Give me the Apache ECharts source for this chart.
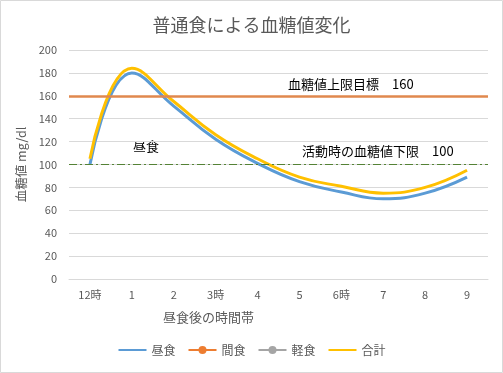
<!DOCTYPE html>
<html><head><meta charset="utf-8">
<script src="https://cdn.jsdelivr.net/npm/echarts@6/dist/echarts.min.js"></script>
<style>html,body{margin:0;padding:0;background:#fff}#c{width:503px;height:373px}</style>
</head><body><div id="c"></div>
<script>
var categories = ['12時','1','2','3時','4','5','6時','7','8','9'];
var lunch = [100, 180, 151, 122, 101, 85, 76, 70, 75, 89];
var snack = [];
var light = [];
var total = [105, 184, 155, 126, 105, 89, 81, 75, 80, 95];
var upperLimit = 160;
var lowerLimit = 100;
var yTicks = {min: 0, max: 200, interval: 20};

var F = '"Noto Sans CJK JP", "Noto Sans", sans-serif';
var chart = echarts.init(document.getElementById('c'), null, {renderer: 'canvas'});
chart.setOption({
  animation: false,
  title: {text: '普通食による血糖値変化', left: 'center', top: 11,
    textStyle: {fontFamily: F, fontSize: 18, fontWeight: 'normal', color: '#595959'}},
  grid: {left: 69, right: 15, top: 50, bottom: 94},
  legend: {bottom: 12, left: 'center', itemWidth: 28, itemHeight: 10, itemGap: 12,
    textStyle: {fontFamily: F, fontSize: 12, color: '#595959'},
    data: [
      {name: '昼食', itemStyle: {opacity: 0}},
      {name: '間食'},
      {name: '軽食'},
      {name: '合計', itemStyle: {opacity: 0}}
    ]},
  xAxis: {type: 'category', data: categories, boundaryGap: true,
    axisLine: {show: true, lineStyle: {color: '#d9d9d9'}}, axisTick: {show: false},
    axisLabel: {fontFamily: F, fontSize: 11, color: '#595959', margin: 10}},
  yAxis: {type: 'value', min: yTicks.min, max: yTicks.max, interval: yTicks.interval,
    name: '血糖値 mg/dl', nameLocation: 'middle', nameGap: 30, nameRotate: 90,
    nameTextStyle: {fontFamily: F, fontSize: 12.5, color: '#595959'},
    axisLine: {show: false}, axisTick: {show: false},
    axisLabel: {fontFamily: F, fontSize: 11, color: '#595959', margin: 12},
    splitLine: {lineStyle: {color: '#d9d9d9', width: 1}}},
  series: [
    {name: '昼食', type: 'line', data: lunch, smooth: 0.45, symbol: 'none',
      lineStyle: {color: '#5B9BD5', width: 3}, itemStyle: {color: '#5B9BD5'}, z: 3,
      markLine: {silent: true, symbol: 'none', label: {show: false},
        data: [
          {yAxis: upperLimit, lineStyle: {color: '#E0884E', width: 2.5, type: 'solid'}},
          {yAxis: lowerLimit, lineStyle: {color: '#548235', width: 1, type: [8, 3, 2, 3]}}
        ]}},
    {name: '間食', type: 'line', data: snack, symbol: 'circle', symbolSize: 6,
      lineStyle: {color: '#ED7D31', width: 3}, itemStyle: {color: '#ED7D31'}},
    {name: '軽食', type: 'line', data: light, symbol: 'circle', symbolSize: 6,
      lineStyle: {color: '#A5A5A5', width: 3}, itemStyle: {color: '#A5A5A5'}},
    {name: '合計', type: 'line', data: total, smooth: 0.45, symbol: 'none',
      lineStyle: {color: '#FFC000', width: 3}, itemStyle: {color: '#FFC000'}, z: 4}
  ],
  graphic: [
    {type: 'rect', shape: {x: 0.5, y: 0.5, width: 502, height: 372}, silent: true,
      style: {fill: 'none', stroke: '#d9d9d9', lineWidth: 1}},
    {type: 'text', left: 163, top: 311, silent: true,
      style: {text: '昼食後の時間帯', font: '13px ' + F, fill: '#595959'}},
    {type: 'text', left: 133, top: 140, silent: true,
      style: {text: '昼食', font: '13px ' + F, fill: '#000'}},
    {type: 'text', left: 288, top: 78, silent: true,
      style: {text: '血糖値上限目標　' + upperLimit, font: '13px ' + F, fill: '#000'}},
    {type: 'text', left: 302, top: 145, silent: true,
      style: {text: '活動時の血糖値下限　' + lowerLimit, font: '13px ' + F, fill: '#000'}}
  ]
});
</script></body></html>
